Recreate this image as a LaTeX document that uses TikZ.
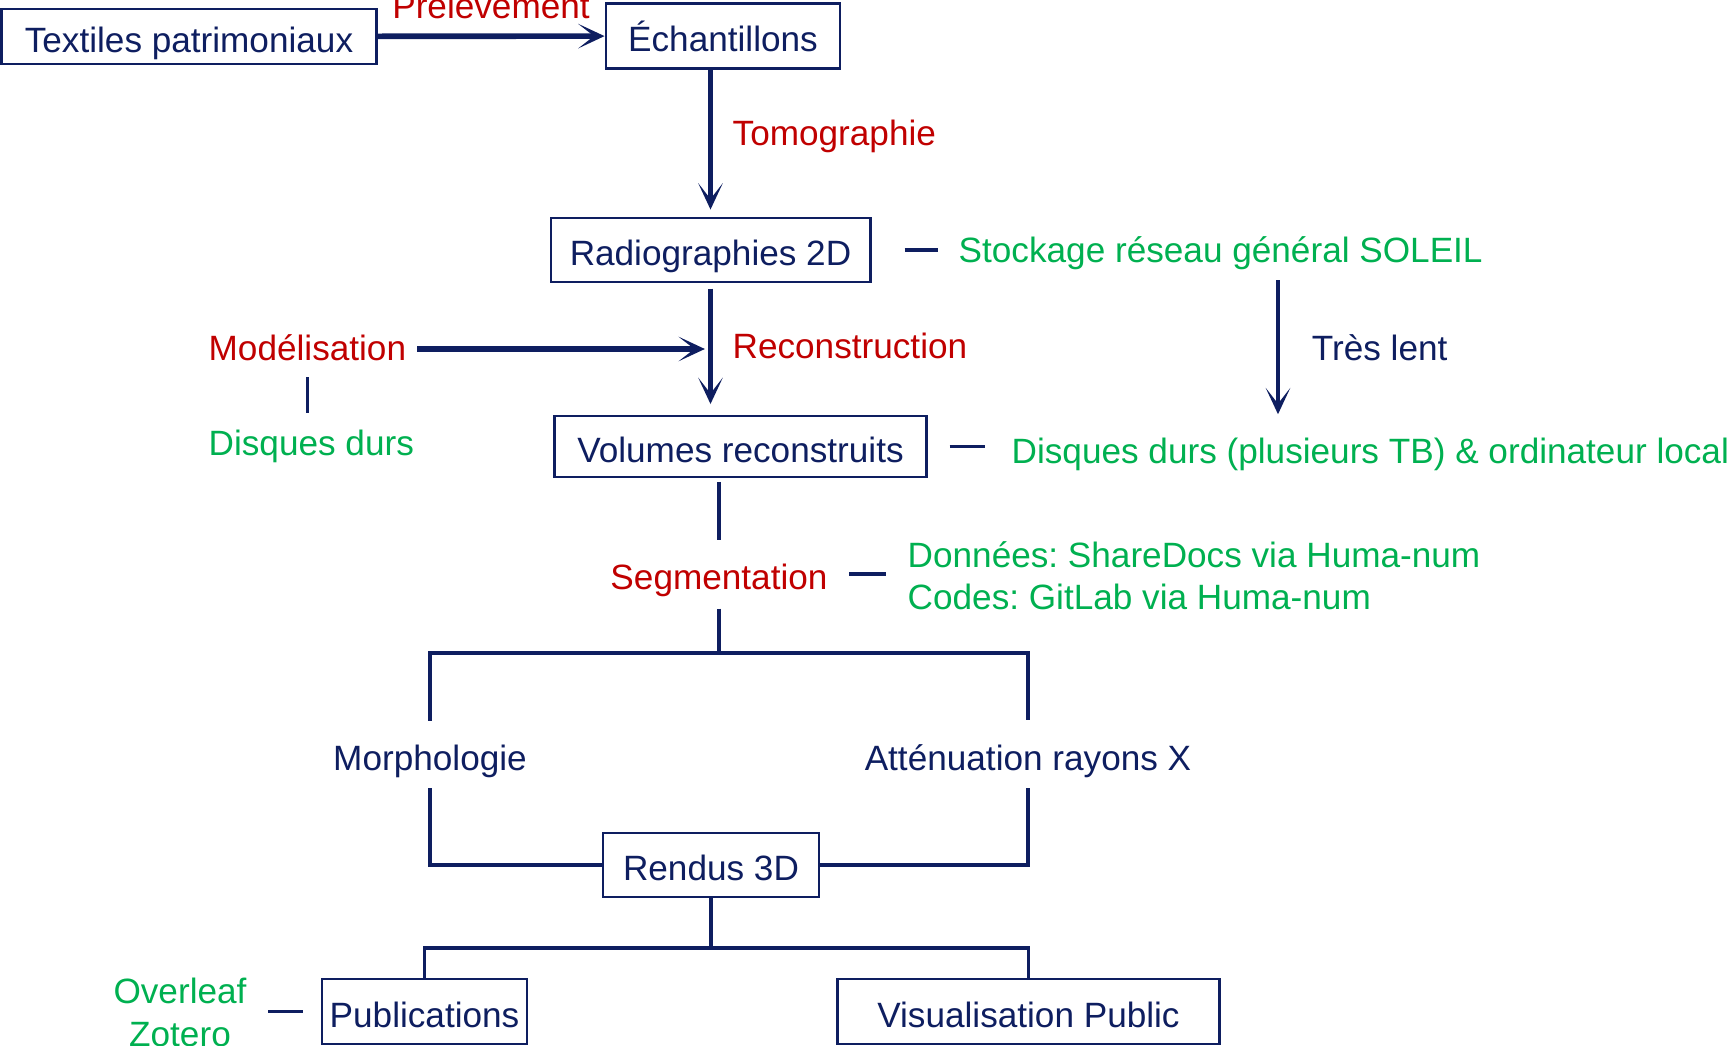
\documentclass[tikz,border=0pt]{standalone}
\usepackage{fontspec}
\setmainfont{Liberation Sans}
\usetikzlibrary{arrows.meta}
\definecolor{navy}{RGB}{14,30,96}
\definecolor{rouge}{RGB}{192,0,0}
\definecolor{vert}{RGB}{0,176,80}
\frenchspacing

\begin{document}
\begin{tikzpicture}[x=0.01cm, y=-0.01cm, font=\fontsize{10}{12.2}\selectfont,
    boite/.style={draw=navy, line width=0.8pt, text=navy, inner sep=0pt, text height=9pt, text depth=0pt},
    etape/.style={text=rouge, inner sep=0pt},
    stock/.style={text=vert, inner sep=0pt},
    texte/.style={text=navy, inner sep=0pt},
    fleche/.style={navy, line width=1.6pt, -{Stealth[length=7.5pt, width=7pt, inset=4.5pt]}},
    trait/.style={navy, line width=0.9pt},
    tiret/.style={navy, line width=1.1pt}]
    \useasboundingbox (0,0) rectangle (1735,1046);
    % boites
    \node[boite, minimum width=3.74cm, minimum height=0.55cm] (textiles) at (189,36.5) {Textiles patrimoniaux};
    \node[boite, minimum width=2.34cm, minimum height=0.65cm] (echant) at (723,36) {Échantillons};
    \node[boite, minimum width=3.19cm, minimum height=0.64cm] (radio) at (710.5,250) {Radiographies 2D};
    \node[boite, minimum width=3.71cm, minimum height=0.61cm] (volumes) at (740.5,446.5) {Volumes reconstruits};
    \node[boite, minimum width=2.16cm, minimum height=0.64cm] (rendus) at (711,865) {Rendus 3D};
    \node[boite, minimum width=2.05cm, minimum height=0.65cm] (publi) at (424.5,1011.5) {Publications};
    \node[boite, minimum width=3.81cm, minimum height=0.65cm] (visu) at (1028.5,1011.5) {Visualisation Public};
    % textes
    \node[etape, anchor=base west] (modelis) at (208,361) {Modélisation};
    \node[stock, anchor=base west] (disques) at (208,456) {Disques durs};
    \node[stock, anchor=base west] (stockage) at (958,263) {Stockage réseau général SOLEIL};
    \node[stock, anchor=base west] (disqloc) at (1011,464) {Disques durs (plusieurs TB) \& ordinateur local};
    \node[etape, anchor=base] (segment) at (719,590) {Segmentation};
    \node[stock, anchor=base west, align=left] (donnees) at (907,610) {Données: ShareDocs via Huma-num\\Codes: GitLab via Huma-num};
    \node[texte, anchor=base] (morpho) at (430,771) {Morphologie};
    \node[texte, anchor=base] (atten) at (1028,771) {Atténuation rayons X};
    \node[stock, anchor=north, align=center] (overleaf) at (180,977.5) {Overleaf\\Zotero};
    \coordinate (lent) at (1278,0);
    \coordinate (fourche) at (719,653);
    \coordinate (fourche2) at (711,948);
    % fleches
    \draw[fleche] (textiles) -- (echant) node[etape, midway, above=4pt] (prelev) {Prélèvement};
    \draw[fleche, shorten >=2pt] (echant.south -| radio.north) -- (radio.north) node[etape, pos=0.45, right=5.5pt] (tomo) {Tomographie};
    \draw[fleche, shorten <=1.5pt, shorten >=3pt] (radio.south) -- (radio.south |- volumes.north) coordinate[pos=0.5] (recon) node[etape, pos=0.48, right=5.5pt] (reconstr) {Reconstruction};
    \draw[fleche, shorten <=3pt, shorten >=1.6pt] (modelis.east |- recon) -- (recon);
    \draw[fleche, line width=1.3pt, shorten <=2.7pt, shorten >=6.7pt] (stockage.south -| lent) -- (disqloc.north -| lent) node[texte, pos=0.46, right=9pt] (tres) {Très lent};
    % traits
    \draw[trait, shorten <=4.3pt, shorten >=4.8pt] (modelis.south) -- (modelis.south |- disques.north);
    \draw[tiret, shorten <=9.4pt, shorten >=5.7pt] (radio.east) -- (radio.east -| stockage.west);
    \draw[tiret, shorten <=6.3pt, shorten >=7.4pt] (volumes.east) -- (volumes.east -| disqloc.west);
    \draw[tiret, shorten <=6pt, shorten >=6pt] ([yshift=2pt]segment.east) -- ([yshift=2pt]segment.east -| donnees.west);
    \draw[tiret, shorten <=6pt, shorten >=4.9pt] (publi.west -| overleaf.east) -- (publi.west);
    \draw[trait, shorten <=1pt, shorten >=6.8pt] (volumes.south -| segment.north) -- (segment.north);
    \draw[trait, shorten <=3pt, shorten >=6.9pt] (segment.south) -- (fourche) -| (morpho.north);
    \draw[trait, shorten >=6.9pt] (fourche) -| (atten.north);
    \draw[trait, shorten <=2.7pt] (morpho.south) |- (rendus.west);
    \draw[trait, shorten <=2.7pt] (atten.south) |- (rendus.east);
    \draw[trait] (rendus.south) -- (fourche2) -| (publi.north);
    \draw[trait] (fourche2) -| (visu.north);
\end{tikzpicture}
\end{document}
